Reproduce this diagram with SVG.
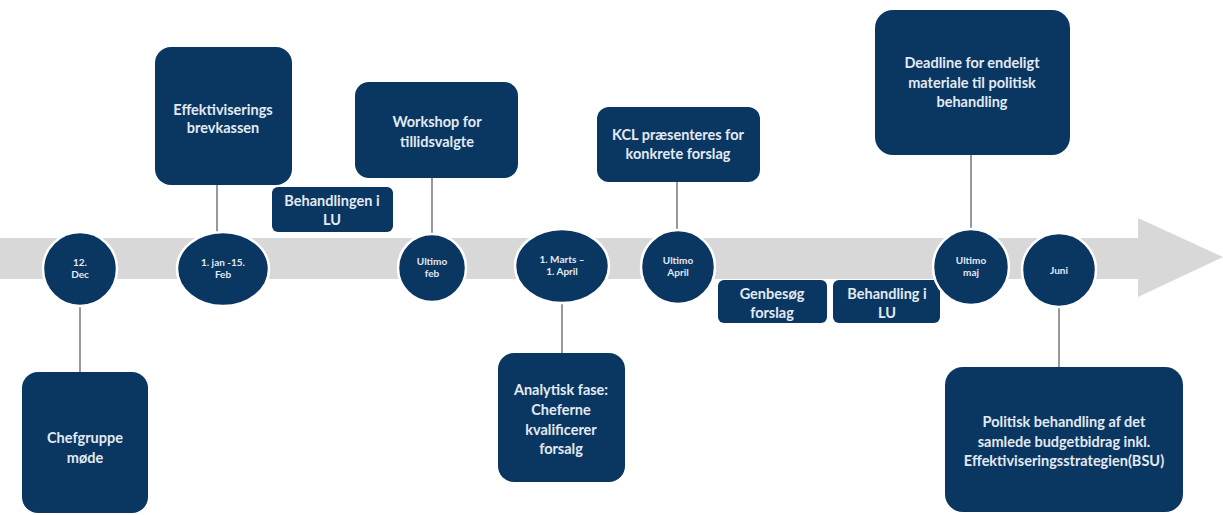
<svg xmlns="http://www.w3.org/2000/svg" width="1223" height="515" viewBox="0 0 1223 515">
<style>
.box{fill:#0a3662;}
.dot{fill:#0a3662;stroke:#ffffff;stroke-width:2.5;}
.t{font-family:Lato,"Open Sans","Liberation Sans",sans-serif;font-weight:bold;font-size:14.5px;fill:#e3eaf3;text-anchor:middle;}
.s{font-family:Lato,"Open Sans","Liberation Sans",sans-serif;font-weight:bold;font-size:10px;fill:#e3eaf3;text-anchor:middle;}
.c{stroke:#7f7f7f;stroke-width:1.6;fill:none;}
</style>
<rect width="1223" height="515" fill="#ffffff"/>
<g id="timeline-arrow">
<polygon points="0,238 1138,238 1138,218 1223,257 1138,297 1138,279 0,279" fill="#d8d8d8"/>
</g>
<g id="connectors">
<line class="c" x1="80" y1="305" x2="80" y2="372"/>
<line class="c" x1="217" y1="185" x2="217" y2="234"/>
<line class="c" x1="432" y1="178" x2="432" y2="236"/>
<line class="c" x1="562" y1="302" x2="562" y2="353"/>
<line class="c" x1="677" y1="182" x2="677" y2="231"/>
<line class="c" x1="971" y1="155" x2="971" y2="232"/>
<line class="c" x1="1059" y1="307" x2="1059" y2="367"/>
</g>
<g id="box-effektiviserings">
<rect class="box" x="155" y="47" width="137" height="138" rx="16"/>
<text class="t" x="223" y="115">Effektiviserings</text>
<text class="t" x="223" y="133">brevkassen</text>
</g>
<g id="box-workshop">
<rect class="box" x="355" y="82" width="163" height="96" rx="14"/>
<text class="t" x="437" y="127">Workshop for</text>
<text class="t" x="437" y="147">tillidsvalgte</text>
</g>
<g id="box-behandlingen-lu">
<rect class="box" x="272" y="187" width="121" height="45" rx="6"/>
<text class="t" x="332" y="206">Behandlingen i</text>
<text class="t" x="332" y="225">LU</text>
</g>
<g id="box-kcl">
<rect class="box" x="597" y="107" width="163" height="75" rx="12"/>
<text class="t" x="678" y="140">KCL præsenteres for</text>
<text class="t" x="678" y="159">konkrete forslag</text>
</g>
<g id="box-deadline">
<rect class="box" x="875" y="10" width="195" height="145" rx="18"/>
<text class="t" x="972" y="68">Deadline for endeligt</text>
<text class="t" x="972" y="88">materiale til politisk</text>
<text class="t" x="972" y="107">behandling</text>
</g>
<g id="box-chefgruppe">
<rect class="box" x="22" y="372" width="126" height="141" rx="16"/>
<text class="t" x="85" y="443">Chefgruppe</text>
<text class="t" x="85" y="463">møde</text>
</g>
<g id="box-analytisk">
<rect class="box" x="498" y="353" width="127" height="129" rx="16"/>
<text class="t" x="561" y="395">Analytisk fase:</text>
<text class="t" x="561" y="415">Cheferne</text>
<text class="t" x="561" y="435">kvalificerer</text>
<text class="t" x="561" y="454">forsalg</text>
</g>
<g id="box-politisk">
<rect class="box" x="945" y="367" width="238" height="145" rx="18"/>
<text class="t" x="1064" y="427">Politisk behandling af det</text>
<text class="t" x="1064" y="447">samlede budgetbidrag inkl.</text>
<text class="t" x="1064" y="466">Effektiviseringsstrategien(BSU)</text>
</g>
<g id="box-genbesog">
<rect class="box" x="718" y="280" width="109" height="43" rx="6"/>
<text class="t" x="772" y="299">Genbesøg</text>
<text class="t" x="772" y="318">forslag</text>
</g>
<g id="box-behandling-lu">
<rect class="box" x="833" y="280" width="107" height="43" rx="6"/>
<text class="t" x="887" y="299">Behandling i</text>
<text class="t" x="887" y="318">LU</text>
</g>
<g id="dot-12dec">
<circle class="dot" cx="80" cy="269" r="37"/>
<text class="s" x="80" y="266">12.</text>
<text class="s" x="80" y="278">Dec</text>
</g>
<g id="dot-jan-feb">
<ellipse class="dot" cx="223" cy="269" rx="46" ry="37"/>
<text class="s" x="223" y="266">1. jan -15.</text>
<text class="s" x="223" y="278">Feb</text>
</g>
<g id="dot-ultimo-feb">
<circle class="dot" cx="432" cy="268" r="34"/>
<text class="s" x="432" y="265">Ultimo</text>
<text class="s" x="432" y="277">feb</text>
</g>
<g id="dot-marts-april">
<ellipse class="dot" cx="562" cy="266" rx="47" ry="37"/>
<text class="s" x="562" y="263">1. Marts –</text>
<text class="s" x="562" y="275">1. April</text>
</g>
<g id="dot-ultimo-april">
<circle class="dot" cx="678" cy="267" r="37"/>
<text class="s" x="678" y="264">Ultimo</text>
<text class="s" x="678" y="276">April</text>
</g>
<g id="dot-ultimo-maj">
<circle class="dot" cx="971" cy="267" r="38"/>
<text class="s" x="971" y="264">Ultimo</text>
<text class="s" x="971" y="276">maj</text>
</g>
<g id="dot-juni">
<circle class="dot" cx="1059" cy="270" r="37"/>
<text class="s" x="1059" y="274">Juni</text>
</g>
</svg>
